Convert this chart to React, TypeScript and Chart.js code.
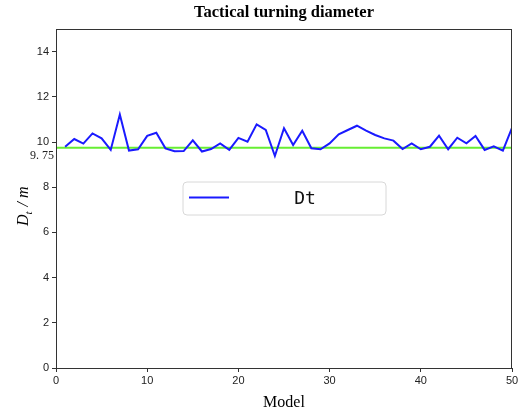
import React, { useEffect, useRef } from "react";
import { Chart, registerables } from "chart.js";
Chart.register(...registerables);

const models = [1,2,3,4,5,6,7,8,9,10,11,12,13,14,15,16,17,18,19,20,21,22,23,24,25,26,27,28,29,30,31,32,33,34,35,36,37,38,39,40,41,42,43,44,45,46,47,48,49,50];
const dtValues = [9.79,10.13,9.93,10.38,10.16,9.65,11.22,9.62,9.68,10.27,10.41,9.72,9.59,9.6,10.07,9.58,9.69,9.94,9.65,10.18,10.01,10.78,10.53,9.38,10.61,9.87,10.5,9.72,9.68,9.94,10.34,10.53,10.72,10.5,10.31,10.16,10.06,9.69,9.94,9.68,9.79,10.28,9.68,10.19,9.94,10.27,9.65,9.81,9.62,10.63];
const refValue = 9.75;
const refLabel = "9. 75";
const yTickValues = [0, 2, 4, 6, 8, 10, 12, 14];
const xTickValues = [0, 10, 20, 30, 40, 50];
const titleText = "Tactical turning diameter";
const xLabel = "Model";
const legendLabel = "Dt";

const decor = {
  id: "decor",
  afterDraw(chart: any) {
    const ctx = chart.ctx;
    const a = chart.chartArea;
    const ys = chart.scales.y;
    ctx.save();
    // frame
    ctx.strokeStyle = "#333";
    ctx.lineWidth = 1;
    ctx.strokeRect(a.left + 0.5, a.top + 0.5, a.right - a.left - 1, a.bottom - a.top);
    // ref label
    ctx.fillStyle = "#222";
    ctx.textAlign = "right";
    ctx.textBaseline = "middle";
    ctx.font = "12px 'Liberation Serif'";
    ctx.fillText(refLabel, 54, ys.getPixelForValue(refValue) + 8);
    // title
    ctx.fillStyle = "#000";
    ctx.textAlign = "center";
    ctx.textBaseline = "middle";
    ctx.font = "bold 16.5px 'Liberation Serif'";
    ctx.fillText(titleText, (a.left + a.right) / 2, 13);
    // x label
    ctx.font = "16px 'Liberation Serif'";
    ctx.fillText(xLabel, (a.left + a.right) / 2, 403);
    // y label
    ctx.translate(24, 202);
    ctx.rotate(-Math.PI / 2);
    ctx.textAlign = "left";
    ctx.font = "italic 16px 'Liberation Serif'";
    const wD = ctx.measureText("D").width;
    ctx.fillText("D", -24, 0);
    ctx.font = "italic 11px 'Liberation Serif'";
    ctx.fillText("t", -24 + wD, 5);
    const wt = ctx.measureText("t").width;
    ctx.font = "italic 16px 'Liberation Serif'";
    ctx.fillText(" / m", -24 + wD + wt + 1, 0);
    ctx.restore();
    // legend
    ctx.save();
    const bx = 183, by = 182, bw = 203, bh = 33, r = 4;
    ctx.beginPath();
    ctx.moveTo(bx + r, by);
    ctx.arcTo(bx + bw, by, bx + bw, by + bh, r);
    ctx.arcTo(bx + bw, by + bh, bx, by + bh, r);
    ctx.arcTo(bx, by + bh, bx, by, r);
    ctx.arcTo(bx, by, bx + bw, by, r);
    ctx.closePath();
    ctx.fillStyle = "rgba(255,255,255,0.9)";
    ctx.fill();
    ctx.strokeStyle = "#d8d8d8";
    ctx.lineWidth = 1;
    ctx.stroke();
    ctx.strokeStyle = "#1a1aff";
    ctx.lineWidth = 2;
    ctx.beginPath();
    ctx.moveTo(189, 197.5);
    ctx.lineTo(229, 197.5);
    ctx.stroke();
    ctx.fillStyle = "#111";
    ctx.font = "18px 'DejaVu Sans Mono'";
    ctx.textAlign = "center";
    ctx.textBaseline = "middle";
    ctx.fillText(legendLabel, 305, 199);
    ctx.restore();
  },
};

export default function App() {
  const ref = useRef<HTMLCanvasElement>(null);
  useEffect(() => {
    const chart = new Chart(ref.current!, {
      type: "line",
      data: {
        datasets: [
          {
            label: legendLabel,
            data: models.map((m, i) => ({ x: m, y: dtValues[i] })),
            borderColor: "#1a1aff",
            borderWidth: 2,
            pointRadius: 0,
            tension: 0,
          },
          {
            label: "ref",
            data: [{ x: 0, y: refValue }, { x: 50, y: refValue }],
            borderColor: "#66ee33",
            borderWidth: 2,
            pointRadius: 0,
          },
        ],
      },
      options: {
        animation: false,
        responsive: false,
        layout: { padding: { top: 29, right: 10, left: 0, bottom: 0 } },
        plugins: { legend: { display: false }, tooltip: { enabled: false }, title: { display: false } },
        scales: {
          x: {
            type: "linear",
            min: 0,
            max: 50,
            afterBuildTicks: (s: any) => { s.ticks = xTickValues.map((v) => ({ value: v })); },
            afterFit: (s: any) => { s.height = 45; },
            grid: { drawOnChartArea: false, tickLength: 4, color: "#333" },
            border: { color: "#333" },
            ticks: { color: "#222", font: { family: "'Liberation Sans'", size: 11 }, padding: 2, maxRotation: 0 },
          },
          y: {
            type: "linear",
            min: 0,
            max: 15,
            afterBuildTicks: (s: any) => { s.ticks = yTickValues.map((v) => ({ value: v })); },
            afterFit: (s: any) => { s.width = 56; },
            grid: { drawOnChartArea: false, tickLength: 4, color: "#333" },
            border: { color: "#333" },
            ticks: {
              color: "#222",
              font: { family: "'Liberation Sans'", size: 11 },
              padding: 3,
              autoSkip: false,
            },
          },
        },
      },
      plugins: [decor],
    });
    return () => chart.destroy();
  }, []);
  return (
    <div style={{ position: "fixed", left: 0, top: 0, width: 522, height: 413, background: "#fff" }}>
      <canvas ref={ref} width={522} height={413} />
    </div>
  );
}
